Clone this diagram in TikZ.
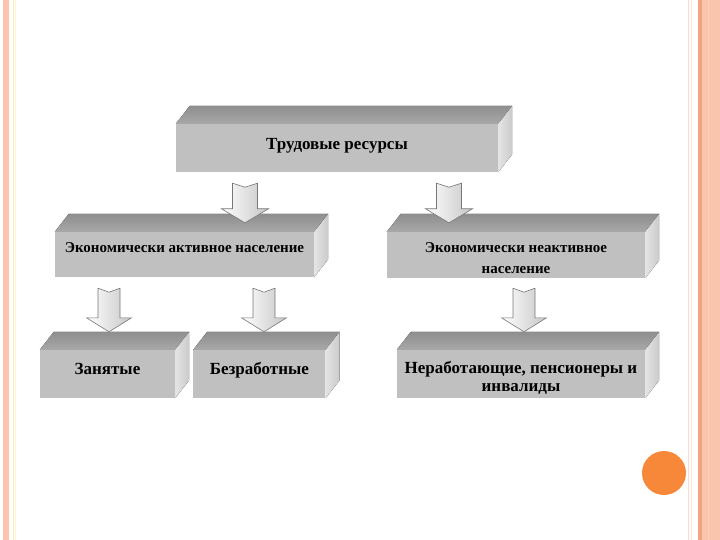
\documentclass[tikz,border=0pt]{standalone}
\usepackage{fontspec}
\setmainfont{Liberation Serif}
\usetikzlibrary{positioning,calc}
\definecolor{frontgray}{HTML}{C0C0C0}
\definecolor{topdark}{HTML}{8E8E8E}
\definecolor{toplight}{HTML}{A8A8A8}
\definecolor{sidelight}{HTML}{E4E4E4}
\definecolor{sidedark}{HTML}{CACACA}
\definecolor{arrowline}{HTML}{777777}
\definecolor{stripe}{HTML}{FBC4AC}
\definecolor{stripedark}{HTML}{F0A482}
\definecolor{dotorange}{HTML}{F7883A}
\tikzset{
    cube/.style={
        rectangle, fill=frontgray, inner sep=2pt,
        align=center, text=black,
        font=\bfseries\fontsize{17}{18}\selectfont
    },
    midcube/.style={cube, font=\bfseries\fontsize{15}{21}\selectfont},
    topface/.style={top color=topdark, bottom color=toplight},
    sideface/.style={left color=sidelight, right color=sidedark},
    blockarrow/.style={draw=arrowline, line width=0.6pt,
        left color=white, right color=gray!45},
}
% block arrow: start, end, shaft half width, head half width
\newcommand{\blockarrow}[4]{%
    \path[blockarrow] let \p1=(#1), \p2=(#2) in
        (\x1-#3pt,\y1) -- (\x1,\y1-4pt) -- (\x1+#3pt,\y1)
        -- (\x1+#3pt,\y2+14pt) -- (\x1+#4pt,\y2+14pt) -- (\x1,\y2)
        -- (\x1-#4pt,\y2+14pt) -- (\x1-#3pt,\y2+14pt) -- cycle;
}
\begin{document}
\begin{tikzpicture}[x=1pt, y=-1pt]

    % Page and borders
    \fill[white] (0,0) rectangle (720,540);
    \useasboundingbox (0,0) rectangle (720,540);
    \fill[stripe] (3,0) rectangle (9,540);
    \draw[stripe!50, line width=0.6pt] (13,0) -- (13,540);
    \draw[yellow!25, line width=0.6pt] (15,0) -- (15,540);
    \draw[stripe!60, line width=0.6pt] (688,0) -- (688,540);
    \draw[stripe!40, line width=0.6pt] (691,0) -- (691,540);
    \fill[stripedark] (698,0) rectangle (702,540);
    \fill[stripe] (702,0) rectangle (720,540);
    \draw[stripedark!50, line width=0.6pt] (708,0) -- (708,540);
    \node[circle, fill=dotorange, minimum size=44pt, inner sep=0pt] (dot) at (664,473) {};

    % Nodes (front faces)
    \node[cube, minimum width=322pt, minimum height=48pt, text depth=9pt] (res)
        at (337,148) {Трудовые ресурсы};
    \node[midcube, minimum width=259pt, minimum height=45pt, text depth=14pt] (act)
        at (184.5,254.5) {Экономически активное население};
    \node[midcube, minimum width=258pt, minimum height=46pt] (inact)
        at (516,255) {\rule{0pt}{17pt}Экономически неактивное\\население};
    \node[cube, minimum width=135pt, minimum height=48pt, text depth=11pt] (emp)
        at (107.5,374) {Занятые};
    \node[cube, minimum width=132pt, minimum height=48pt, text depth=11pt,
          right=18pt of emp] (unemp) {Безработные};
    \node[cube, minimum width=248pt, minimum height=48pt] (non)
        at (521,374) {\rule{0pt}{20pt}Неработающие, пенсионеры и\\инвалиды};

    % Top and side faces
    \foreach \n in {res,act,inact,emp,unemp,non} {
        \fill[topface] (\n.north west) -- ++(14,-18)
            -- ($(\n.north east)+(14,-18)$) -- (\n.north east) -- cycle;
        \fill[sideface] (\n.north east) -- ++(14,-18)
            -- ($(\n.south east)+(14,-18)$) -- (\n.south east) -- cycle;
    }

    % Arrow positions
    \coordinate (x1) at (245,0);
    \coordinate (x2) at (449,0);
    \coordinate (x3) at (109,0);
    \coordinate (x4) at (264,0);
    \coordinate (x5) at (524,0);

    % Arrows
    \blockarrow{$(x1 |- res.south)+(0,11)$}{$(x1 |- act.north)+(0,-9)$}{12.5}{23.5}
    \blockarrow{$(x2 |- res.south)+(0,11)$}{$(x2 |- inact.north)+(0,-9)$}{12.5}{23.5}
    \blockarrow{$(x3 |- act.south)+(0,11)$}{$(x3 |- emp.north)+(0,-18)$}{11}{22.5}
    \blockarrow{$(x4 |- act.south)+(0,11)$}{$(x4 |- unemp.north)+(0,-18)$}{11}{22.5}
    \blockarrow{$(x5 |- inact.south)+(0,10)$}{$(x5 |- non.north)+(0,-18)$}{11}{22.5}

\end{tikzpicture}
\end{document}
